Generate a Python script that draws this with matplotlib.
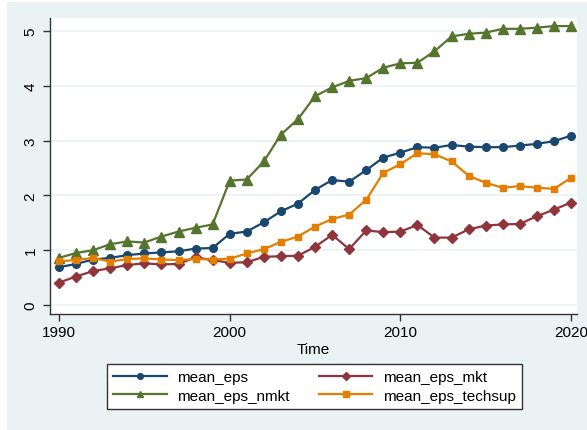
import matplotlib.pyplot as plt
from matplotlib.patches import Rectangle

# Data
years = list(range(1990, 2021))

mean_eps = [0.69, 0.75, 0.83, 0.86, 0.91, 0.94, 0.96, 0.98, 1.03, 1.04,
            1.30, 1.34, 1.51, 1.71, 1.85, 2.10, 2.28, 2.25, 2.46, 2.69,
            2.78, 2.88, 2.87, 2.92, 2.89, 2.88, 2.88, 2.91, 2.94, 2.99, 3.09]

mean_eps_mkt = [0.41, 0.52, 0.62, 0.67, 0.73, 0.76, 0.74, 0.75, 0.87, 0.82,
                0.77, 0.78, 0.88, 0.89, 0.90, 1.06, 1.28, 1.02, 1.36, 1.33,
                1.34, 1.46, 1.23, 1.23, 1.38, 1.45, 1.47, 1.48, 1.62, 1.74, 1.87]

mean_eps_nmkt = [0.86, 0.95, 1.00, 1.11, 1.16, 1.14, 1.25, 1.34, 1.41, 1.47,
                 2.27, 2.29, 2.62, 3.11, 3.39, 3.81, 3.97, 4.09, 4.14, 4.33,
                 4.41, 4.42, 4.63, 4.90, 4.95, 4.97, 5.04, 5.04, 5.06, 5.09, 5.09]

mean_eps_techsup = [0.80, 0.82, 0.86, 0.79, 0.84, 0.85, 0.83, 0.82, 0.84, 0.83,
                    0.845, 0.94, 1.02, 1.15, 1.25, 1.43, 1.57, 1.65, 1.92, 2.41,
                    2.57, 2.77, 2.75, 2.62, 2.36, 2.23, 2.14, 2.17, 2.14, 2.12, 2.32]

x_ticks = [1990, 2000, 2010, 2020]
y_ticks = [0, 1, 2, 3, 4, 5]

# Stata s2color colours
navy = "#1a476f"
maroon = "#90353b"
green = "#55752f"
orange = "#e37e00"
bg = "#eaf2f3"

plt.rcParams["font.family"] = ["Liberation Sans", "DejaVu Sans"]

fig = plt.figure(figsize=(5.87, 4.31), dpi=100)
fig.patch.set_facecolor("white")
# light blue graph region, slightly inset like the original export
fig.patches.append(Rectangle((7 / 587, 0), 1 - 7 / 587, 1 - 3 / 431,
                             transform=fig.transFigure, facecolor=bg,
                             edgecolor="none", zorder=-10))

ax = fig.add_axes([50 / 587, 1 - 315 / 431, 527 / 587, 296 / 431])
ax.set_facecolor("white")

l1, = ax.plot(years, mean_eps, color=navy, marker="o", markersize=5.5, lw=1.6)
l2, = ax.plot(years, mean_eps_mkt, color=maroon, marker="D", markersize=5.5, lw=1.6)
l3, = ax.plot(years, mean_eps_nmkt, color=green, marker="^", markersize=6.5, lw=1.6)
l4, = ax.plot(years, mean_eps_techsup, color=orange, marker="s", markersize=5, lw=1.6)

ax.set_xlim(1989.47, 2020.35)
ax.set_ylim(-0.164, 5.237)
ax.set_xticks(x_ticks)
ax.set_yticks(y_ticks)
ax.set_yticklabels([str(v) for v in y_ticks], rotation=90, va="center")
ax.tick_params(axis="both", direction="out", length=5, width=1, color="#333333",
               labelsize=11, labelcolor="black")
ax.tick_params(axis="x", pad=3)
ax.tick_params(axis="y", pad=4)

ax.grid(axis="y", color=bg, lw=1.2)
ax.set_axisbelow(True)

for side in ["top", "right"]:
    ax.spines[side].set_visible(False)
for side in ["left", "bottom"]:
    ax.spines[side].set_color("#333333")
    ax.spines[side].set_linewidth(1)

ax.set_xlabel("Time", fontsize=11, labelpad=2)

leg = fig.legend([l1, l3, l2, l4],
                 ["mean_eps", "mean_eps_nmkt", "mean_eps_mkt", "mean_eps_techsup"],
                 ncol=2, loc="center", bbox_to_anchor=(314.7 / 587, 1 - 387.5 / 431),
                 fontsize=11, handlelength=3.5, columnspacing=1.9,
                 handletextpad=0.7, labelspacing=0.3, borderpad=0.4,
                 borderaxespad=0, fancybox=False, markerscale=0.75)
leg.get_frame().set_edgecolor("#333333")
leg.get_frame().set_linewidth(1)
leg.get_frame().set_facecolor("white")
leg.get_frame().set_alpha(1)

fig.savefig("out.png", dpi=100, facecolor=fig.get_facecolor())
